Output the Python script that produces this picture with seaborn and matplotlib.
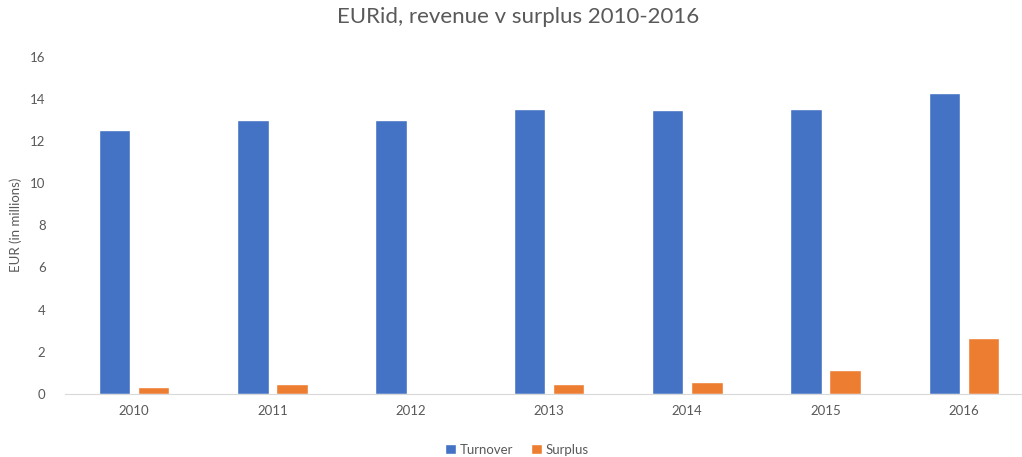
import pandas as pd
import matplotlib.pyplot as plt
import seaborn as sns

# values (EUR millions)
years = ['2010', '2011', '2012', '2013', '2014', '2015', '2016']
turnover = [12.5, 13.0, 13.0, 13.5, 13.45, 13.5, 14.3]
surplus = [0.33, 0.47, 0.0, 0.47, 0.57, 1.15, 2.64]

df = pd.DataFrame({'year': years * 2,
                   'value': turnover + surplus,
                   'series': ['Turnover'] * len(years) + ['Surplus'] * len(years)})

sns.set_style('white')
plt.rcParams['font.family'] = ['Lato', 'DejaVu Sans']
grey = '#595959'

fig = plt.figure(figsize=(10.22, 4.57), dpi=100)
ax = fig.add_axes([65 / 1022, 0.138, 968 / 1022, 0.738])

sns.barplot(data=df, x='year', y='value', hue='series',
            palette={'Turnover': '#4472C4', 'Surplus': '#ED7D31'},
            saturation=1, width=0.566, gap=0.195, ax=ax)

ax.set_xlim(-0.5, 6.5)
ax.set_ylim(0, 16)
ax.set_yticks(range(0, 17, 2))
ax.tick_params(axis='both', length=0, colors=grey, labelsize=9.5)
ax.tick_params(axis='x', pad=8)
ax.tick_params(axis='y', pad=14)
for side in ['top', 'right', 'left']:
    ax.spines[side].set_visible(False)
ax.spines['bottom'].set_color('#D9D9D9')
ax.set_xlabel('')
ax.set_ylabel('EUR (in millions)', color=grey, fontsize=9.5, labelpad=6)

fig.suptitle('EURid, revenue v surplus 2010-2016', x=518 / 1022, y=0.985,
             color=grey, fontsize=16)

ax.legend(loc='center', bbox_to_anchor=(452 / 968, -0.165), ncol=2,
          frameon=False, fontsize=9.5, labelcolor=grey, handlelength=0.8,
          handleheight=0.8, columnspacing=1.4, handletextpad=0.3)

fig.savefig('out.png', dpi=100)
